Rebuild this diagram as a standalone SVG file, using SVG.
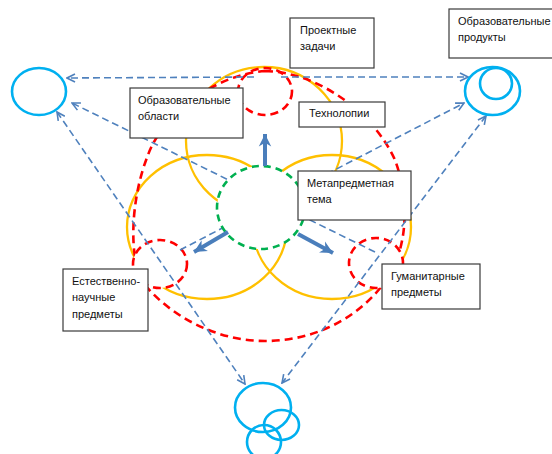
<svg xmlns="http://www.w3.org/2000/svg" width="552" height="454" viewBox="0 0 552 454">
<defs>
<style>
.yel{fill:none;stroke:#FFC000;stroke-width:2.3}
.red{fill:none;stroke:#FF0000;stroke-width:2.6;stroke-dasharray:8 5}
.redw{fill:#fff;stroke:#FF0000;stroke-width:2.6;stroke-dasharray:8 5}
.grn{fill:#fff;stroke:#00B050;stroke-width:2.6;stroke-dasharray:7 5}
.blu{fill:none;stroke:#00B0F0;stroke-width:2.6}
.con{fill:none;stroke:#4F81BD;stroke-width:1.6;stroke-dasharray:7 4}
.thick{fill:none;stroke:#4A7EBB;stroke-width:4}
.box{fill:#fff;stroke:#3a3a3a;stroke-width:1.2}
.shd{fill:#bbb}
text{font-family:"Liberation Sans",Arial,sans-serif;font-size:11px;fill:#111}
</style>
<marker id="va" viewBox="0 0 10 10" refX="9" refY="5" markerWidth="10" markerHeight="10" markerUnits="userSpaceOnUse" orient="auto-start-reverse">
<path d="M1,1 L9,5 L1,9" fill="none" stroke="#4F81BD" stroke-width="1.6"/>
</marker>
<marker id="ta" viewBox="0 0 12 12" refX="11" refY="6" markerWidth="15" markerHeight="15" markerUnits="userSpaceOnUse" orient="auto">
<path d="M1,1 L11,6 L1,11 L4,6 z" fill="#4A7EBB"/>
</marker>
</defs>

<g id="yellow-circles">
<ellipse class="yel" cx="264" cy="141" rx="78" ry="74"/>
<ellipse class="yel" cx="207" cy="227" rx="80" ry="72"/>
<ellipse class="yel" cx="332" cy="227" rx="79" ry="72"/>
</g>

<g id="big-red">
<path class="red" d="M265,71 C320,72 375,115 395,160 C410,200 408,250 385,282 C355,322 310,341 265,341 C215,341 170,315 145,285 C128,262 130,200 148,155 C160,120 210,75 265,71 Z"/>
</g>

<g id="red-top"><ellipse class="red" cx="265" cy="91.5" rx="27" ry="23.5"/></g>
<g id="red-left"><ellipse class="redw" cx="160" cy="264" rx="27" ry="24"/></g>
<g id="red-right"><ellipse class="redw" cx="376" cy="263" rx="27" ry="25"/></g>

<g id="connectors">
<line class="con" x1="254" y1="77" x2="67" y2="78" marker-end="url(#va)"/>
<line class="con" x1="281" y1="77" x2="468" y2="77" marker-end="url(#va)"/>
<line class="con" x1="375" y1="252" x2="72" y2="103" marker-end="url(#va)"/>
<line class="con" x1="180" y1="250" x2="464" y2="103" marker-end="url(#va)"/>
<line class="con" x1="57" y1="112" x2="245" y2="384" marker-start="url(#va)" marker-end="url(#va)"/>
<line class="con" x1="486" y1="116" x2="282" y2="383" marker-start="url(#va)" marker-end="url(#va)"/>
</g>

<g id="green-circle"><ellipse class="grn" cx="261" cy="207.5" rx="44" ry="41.5"/></g>

<g id="thick-arrows">
<line class="thick" x1="265" y1="166" x2="265" y2="134" marker-end="url(#ta)"/>
<line class="thick" x1="228" y1="232" x2="194" y2="252" marker-end="url(#ta)"/>
<line class="thick" x1="298" y1="234" x2="333" y2="253" marker-end="url(#ta)"/>
</g>

<g id="blue-left"><ellipse class="blu" cx="39" cy="91.5" rx="27" ry="23.5"/></g>
<g id="blue-right">
<ellipse class="blu" cx="492.5" cy="91" rx="27.5" ry="24"/>
<ellipse class="blu" cx="496" cy="83.5" rx="16" ry="15.5"/>
</g>
<g id="blue-bottom">
<ellipse class="blu" cx="263" cy="407.5" rx="28" ry="24.5"/>
<ellipse class="blu" cx="281.5" cy="425" rx="17.5" ry="15"/>
<ellipse class="blu" cx="264" cy="442" rx="17" ry="17"/>
</g>

<g id="box-proektnye">
<rect class="box" x="290" y="18" width="84" height="50"/>
<text x="300" y="34">Проектные</text>
<text x="300" y="50">задачи</text>
</g>
<g id="box-produkty">
<rect class="box" x="449" y="9" width="110" height="49"/>
<text x="458" y="25">Образовательные</text>
<text x="458" y="41">продукты</text>
</g>
<g id="box-oblasti">
<rect class="box" x="130" y="88" width="113" height="50"/>
<text x="138" y="104">Образовательные</text>
<text x="138" y="120">области</text>
</g>
<g id="box-tehnologii">
<rect class="box" x="299" y="102" width="86" height="25"/>
<text x="309" y="117">Технолопии</text>
</g>
<g id="box-meta">
<rect class="box" x="298" y="171" width="113" height="49"/>
<text x="307" y="187">Метапредметная</text>
<text x="307" y="203">тема</text>
</g>
<g id="box-estestv">
<rect class="box" x="63" y="269" width="85" height="62"/>
<text x="72" y="285">Естественно-</text>
<text x="72" y="301">научные</text>
<text x="72" y="318">предметы</text>
</g>
<g id="box-gumanit">
<rect class="box" x="382" y="264" width="98" height="45"/>
<text x="391" y="280">Гуманитарные</text>
<text x="391" y="296">предметы</text>
</g>
</svg>
